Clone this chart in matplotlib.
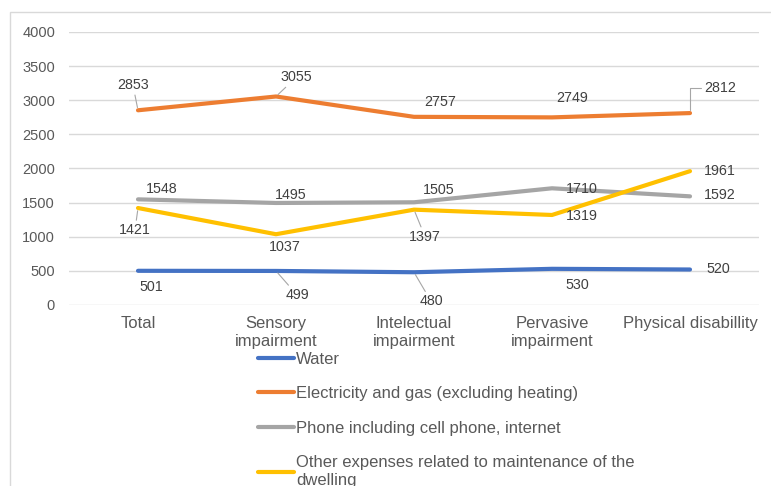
import matplotlib.pyplot as plt
from matplotlib.patches import Rectangle

categories = ["Total", "Sensory\nimpairment", "Intelectual\nimpairment",
              "Pervasive\nimpairment", "Physical disabillity"]
series_names = ["Water", "Electricity and gas (excluding heating)",
                "Phone including cell phone, internet",
                "Other expenses related to maintenance of the\ndwelling"]
water = [501, 499, 480, 530, 520]
electricity = [2853, 3055, 2757, 2749, 2812]
phone = [1548, 1495, 1505, 1710, 1592]
other = [1421, 1037, 1397, 1319, 1961]

colors = ["#4472C4", "#ED7D31", "#A5A5A5", "#FFC000"]

# label offsets in pixels (dx, dy) and whether a leader line is drawn
label_pos = [
    [(13, -16, False), (21, -24, True), (17, -29, True), (25, -16, False), (28, 1, False)],
    [(-5, 25, True), (20, 19, True), (26, 15, False), (20, 19, False), (30, 25, "elbow")],
    [(24, 10, False), (15, 8, False), (25, 12, False), (30, -1, False), (30, 1, False)],
    [(-3, -22, True), (9, -13, False), (11, -27, True), (30, -1, False), (30, 0, False)],
]

fig = plt.figure(figsize=(7.71, 4.86), dpi=100)
fig.patches.append(Rectangle((10 / 771, -0.1), 1.1, 0.975 + 0.1, transform=fig.transFigure,
                             fill=False, edgecolor="#D9D9D9", lw=1))
ax = fig.add_axes([69 / 771, 1 - 305 / 486, 690 / 771, 273 / 486])

x = range(len(categories))
all_series = [water, electricity, phone, other]
for vals, c, name in zip(all_series, colors, series_names):
    ax.plot(x, vals, color=c, lw=3, label=name, solid_capstyle="round", solid_joinstyle="round")

for vals, offs in zip(all_series, label_pos):
    for i, v in enumerate(vals):
        dx, dy, leader = offs[i]
        kw = {}
        if leader is True:
            kw["arrowprops"] = dict(arrowstyle="-", color="#A6A6A6", lw=0.8, shrinkA=0, shrinkB=2)
        elif leader == "elbow":
            kw["arrowprops"] = dict(arrowstyle="-", color="#A6A6A6", lw=0.8, shrinkA=0, shrinkB=2,
                                    connectionstyle="angle,angleA=0,angleB=90,rad=0")
        ax.annotate(str(v), (i, v), xytext=(dx, dy), textcoords="offset pixels",
                    ha="center", va="center", fontsize=10.3, color="#404040",
                    family="Liberation Sans", **kw)

ax.set_xlim(-0.5, 4.5)
ax.set_ylim(0, 4000)
ax.set_yticks(range(0, 4001, 500))
ax.set_xticks(list(x))
ax.set_xticklabels(categories, fontsize=12, color="#595959", family="Liberation Sans")
for t in ax.get_yticklabels():
    t.set_fontsize(10.5)
    t.set_color("#595959")
    t.set_family("Liberation Sans")
ax.tick_params(axis="x", length=0, pad=8)
ax.tick_params(axis="y", length=0, pad=10)
ax.grid(axis="y", color="#D9D9D9", lw=1)
ax.set_axisbelow(True)
for s in ax.spines.values():
    s.set_visible(False)

fig.legend(loc="upper left", bbox_to_anchor=(251 / 771, 1 - 345 / 486), frameon=False,
           prop={"family": "Liberation Sans", "size": 12}, labelcolor="#595959",
           handlelength=2.2, handletextpad=0.12, labelspacing=1.17, borderaxespad=0)

fig.savefig("out.png", dpi=100)
